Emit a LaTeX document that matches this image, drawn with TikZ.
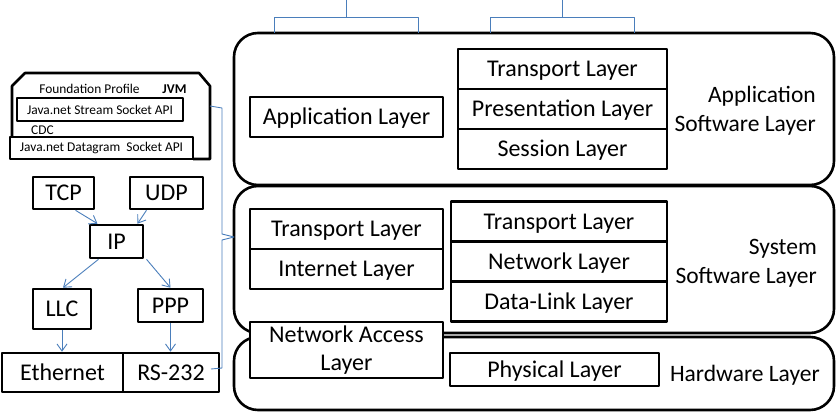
\documentclass[tikz,border=0pt]{standalone}
\usepackage{fontspec}
\setmainfont{Carlito}
\usetikzlibrary{arrows.meta}
\definecolor{linkblue}{RGB}{74,126,187}

\begin{document}
\begin{tikzpicture}[x=1pt, y=-1pt, line join=round,
    twoline/.style={draw, fill=white, line width=2.6pt, inner sep=0pt, align=center,
      font=\fontsize{24}{28}\selectfont},
    layerbox/.style={twoline, text height=15.5pt, text depth=0pt},
    smallbox/.style={draw, fill=white, line width=2.6pt, inner sep=0pt,
      font=\fontsize{13.4}{15}\selectfont},
    bigbox/.style={draw, line width=2.6pt, rounded corners=24pt},
    tagtext/.style={inner sep=0pt, align=right, anchor=east,
      font=\fontsize{23.5}{29}\selectfont},
    link/.style={linkblue, line width=0.9pt},
    arr/.style={link, -{Straight Barb[length=7pt, width=10pt]}}]
  \useasboundingbox (0,0) rectangle (838,412);
  \def\wl{193}
  \def\wr{209}

  % three big layers
  \draw[bigbox] (234,33) rectangle (834,185);
  \draw[bigbox] (234,186) rectangle (834,333);
  \draw[bigbox] (234,337) rectangle (834,410);
  \node[tagtext] (appsw) at (816,111) {Application\\Software Layer};
  \node[tagtext] (syssw) at (817,263) {System\\Software Layer};
  \node[tagtext] (hwl) at (820,375) {Hardware Layer};

  % application software layer
  \node[layerbox, minimum width=\wl, minimum height=40] (appl) at (346.5,117) {Application Layer};
  \node[layerbox, minimum width=\wr, minimum height=40] (tra) at (562.5,69) {Transport Layer};
  \node[layerbox, minimum width=\wr, minimum height=40] (pres) at (562.5,109) {Presentation Layer};
  \node[layerbox, minimum width=\wr, minimum height=40] (sess) at (562.5,149) {Session Layer};

  % system software layer
  \node[layerbox, minimum width=\wl, minimum height=40] (trb) at (346.5,229) {Transport Layer};
  \node[layerbox, minimum width=\wl, minimum height=40] (inet) at (346.5,269) {Internet Layer};
  \node[layerbox, minimum width=216, minimum height=40] (trc) at (559,221.5) {Transport Layer};
  \node[layerbox, minimum width=216, minimum height=40] (netw) at (559,261.5) {Network Layer};
  \node[layerbox, minimum width=216, minimum height=40] (dlink) at (559,301.5) {Data-Link Layer};

  % hardware layer
  \node[twoline, minimum width=\wl, minimum height=56] (nal) at (346.5,350) {Network Access\\Layer};
  \node[layerbox, minimum width=\wr, minimum height=33] (phys) at (554.5,369.5) {Physical Layer};

  % JVM block
  \draw[line width=2.6pt] (12,137) -- (12,86) -- (25,73) -- (199,73) -- (210,86) -- (210,159) -- (193,159);
  \node[smallbox, minimum width=166, minimum height=23] (stream) at (100,109.5) {Java.net Stream Socket API};
  \node[smallbox, minimum width=183, minimum height=22] (dgram) at (101.5,148) {Java.net Datagram\ \ Socket API};
  \node[inner sep=0pt, font=\fontsize{13.4}{15}\selectfont] (fprof) at (89.5,89) {Foundation Profile};
  \node[inner sep=0pt, font=\fontsize{13.4}{15}\selectfont\bfseries] (jvm) at (174.5,89) {JVM};
  \node[inner sep=0pt, font=\fontsize{13.4}{15}\selectfont] (cdc) at (42.5,130) {CDC};

  % protocol stack
  \node[layerbox, minimum width=61, minimum height=32] (tcp) at (63.5,193) {TCP};
  \node[layerbox, minimum width=73, minimum height=32] (udp) at (166.5,193) {UDP};
  \node[layerbox, minimum width=53, minimum height=33] (ip) at (116.5,241.5) {IP};
  \node[layerbox, minimum width=58, minimum height=40] (llc) at (62,309) {LLC};
  \node[layerbox, minimum width=65, minimum height=33] (ppp) at (170.5,305.5) {PPP};
  \node[layerbox, minimum width=121, minimum height=39] (eth) at (62.5,372.5) {Ethernet};
  \node[layerbox, minimum width=96, minimum height=39] (rs) at (171,372.5) {RS-232};

  \draw[arr] ([xshift=12pt]tcp.south) -- ([xshift=-19pt]ip.north);
  \draw[arr] ([xshift=-20pt]udp.south) -- ([xshift=21pt]ip.north);
  \draw[arr] ([xshift=-18pt]ip.south) -- ([xshift=1pt]llc.north);
  \draw[arr] ([xshift=30pt]ip.south) -- ([xshift=0pt]ppp.north);
  \draw[arr] (llc.south) -- (llc.south |- eth.north);
  \draw[arr] (ppp.south) -- (ppp.south |- rs.north);

  % brackets
  \coordinate (ba) at (346,0);
  \coordinate (bb) at (562,0);
  \draw[link] (274,33) -- (274,17) -- (418,17) -- (418,33);
  \draw[link] (ba) -- (346,17);
  \draw[link] (490,33) -- (490,17) -- (634,17) -- (634,33);
  \draw[link] (bb) -- (562,17);
  \coordinate (bt) at (210,106);
  \coordinate (bm) at (234,237);
  \coordinate (bl) at (211,369);
  \draw[link] (bt) -- (222,108) -- (222,234) -- (bm) -- (222,240) -- (222,368) -- (bl);
\end{tikzpicture}
\end{document}
